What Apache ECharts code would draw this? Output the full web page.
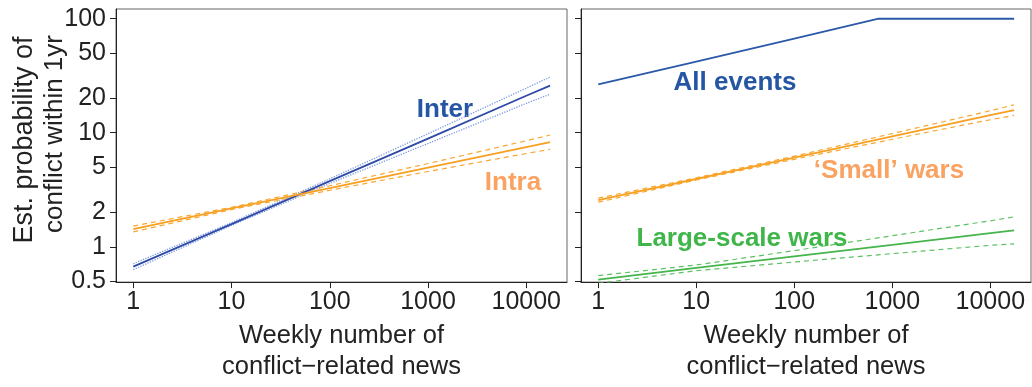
<!DOCTYPE html>
<html>
<head>
<meta charset="utf-8">
<script src="https://cdn.jsdelivr.net/npm/echarts@6/dist/echarts.min.js"></script>
<style>
html,body{margin:0;padding:0;background:#fff;}
#chart{width:1032px;height:387px;}
</style>
</head>
<body>
<div id="chart"></div>
<script>
// ---- data ----
const newsX = [1, 10, 100, 1000, 10000, 17500];
const yTicks = [0.5, 1, 2, 5, 10, 20, 50, 100];
const xTicks = [1, 10, 100, 1000, 10000];

// Left panel
const interMid = [0.67, 1.58, 3.76, 8.89, 21.1, 25.9];
const interUp  = [0.71, 1.63, 3.94, 9.8, 24.6, 30.8];
const interLo  = [0.63, 1.54, 3.59, 8.05, 18.1, 21.8];
const intraMid = [1.43, 2.17, 3.27, 4.95, 7.48, 8.26];
const intraUp  = [1.52, 2.22, 3.43, 5.37, 8.51, 9.55];
const intraLo  = [1.35, 2.12, 3.13, 4.57, 6.58, 7.14];

// Right panel
const allX   = [1, 10, 100, 725, 1000, 10000, 17500];
const allMid = [26.5, 42.1, 67, 100, 100, 100, 100];
const smallMid = [2.56, 3.93, 6.04, 9.29, 14.3, 15.8];
const smallUp  = [2.67, 4.03, 6.24, 9.84, 15.6, 17.6];
const smallLo  = [2.46, 3.85, 5.85, 8.77, 13.0, 14.2];
const largeMid = [0.516, 0.653, 0.824, 1.04, 1.32, 1.39];
const largeUp  = [0.558, 0.692, 0.925, 1.25, 1.69, 1.83];
const largeLo  = [0.478, 0.617, 0.735, 0.871, 1.03, 1.06];

// ---- styles ----
const FONT = "'Liberation Sans', Arial, Helvetica, sans-serif";
const BLUE = '#2f49a6', BLUE_CI = '#7d9be0', BLUE_ALL = '#2b58a8';
const ORANGE = '#f7a021', ORANGE_CI = '#f8a733';
const GREEN = '#45b54c', GREEN_CI = '#5cc163';

function pts(xs, ys) { return xs.map((x, i) => [x, ys[i]]); }

const chart = echarts.init(document.getElementById('chart'), null, {renderer: 'canvas'});

function xAxisDef(gi) {
  return {
    type: 'log', gridIndex: gi, min: 0.667, max: 26000, logBase: 10,
    name: 'Weekly number of\nconflict\u2212related news',
    nameLocation: 'middle', nameGap: 31,
    nameTextStyle: {fontFamily: FONT, fontSize: 25.5, color: '#222', lineHeight: 31},
    axisLine: {show: true, onZero: false, lineStyle: {color: '#222', width: 1}},
    axisTick: {show: true, inside: false, length: 6, customValues: xTicks, lineStyle: {color: '#222'}},
    axisLabel: {show: true, margin: 8, customValues: xTicks, fontFamily: FONT, fontSize: 25, color: '#222',
                formatter: v => String(Math.round(v))},
    splitLine: {show: false}, minorTick: {show: false}
  };
}
function yAxisDef(gi, labels) {
  return {
    type: 'log', gridIndex: gi, min: 0.49, max: 121.7, logBase: 10,
    axisLine: {show: true, onZero: false, lineStyle: {color: '#222', width: 1}},
    axisTick: {show: true, inside: false, length: 6, customValues: yTicks, lineStyle: {color: '#222'}},
    axisLabel: {show: labels, margin: 10, customValues: yTicks, fontFamily: FONT, fontSize: 25, color: '#222',
                formatter: v => (v < 1 ? String(Math.round(v * 10) / 10) : String(Math.round(v)))},
    splitLine: {show: false}, minorTick: {show: false}
  };
}
function line(gi, data, color, width, type) {
  return {
    type: 'line', xAxisIndex: gi, yAxisIndex: gi, data: data,
    showSymbol: false, symbol: 'none', silent: true, animation: false, clip: true,
    lineStyle: {color: color, width: width, type: type || 'solid'}
  };
}

const option = {
  backgroundColor: '#fff',
  animation: false,
  grid: [
    {left: 116, top: 9, width: 451, height: 281, show: true, borderColor: '#666', borderWidth: 1, containLabel: false},
    {left: 581, top: 9, width: 450, height: 281, show: true, borderColor: '#666', borderWidth: 1, containLabel: false}
  ],
  xAxis: [xAxisDef(0), xAxisDef(1)],
  yAxis: [yAxisDef(0, true), yAxisDef(1, false)],
  series: [
    line(0, pts(newsX, interUp), BLUE_CI, 1.3, 'dotted'),
    line(0, pts(newsX, interLo), BLUE_CI, 1.3, 'dotted'),
    line(0, pts(newsX, intraUp), ORANGE_CI, 1.2, [5, 4]),
    line(0, pts(newsX, intraLo), ORANGE_CI, 1.2, [5, 4]),
    line(0, pts(newsX, interMid), BLUE, 1.8),
    line(0, pts(newsX, intraMid), ORANGE, 1.8),

    line(1, pts(newsX, smallUp), ORANGE_CI, 1.2, [5, 4]),
    line(1, pts(newsX, smallLo), ORANGE_CI, 1.2, [5, 4]),
    line(1, pts(newsX, largeUp), GREEN_CI, 1.2, [5, 4]),
    line(1, pts(newsX, largeLo), GREEN_CI, 1.2, [5, 4]),
    line(1, pts(allX, allMid), BLUE_ALL, 1.8),
    line(1, pts(newsX, smallMid), ORANGE, 1.8),
    line(1, pts(newsX, largeMid), GREEN, 1.8)
  ],
  graphic: [
    {type: 'text', x: 25, y: 140, rotation: Math.PI / 2,
     style: {text: 'Est. probability of', font: '27px ' + FONT, fill: '#222',
             textAlign: 'center', textVerticalAlign: 'middle'}},
    {type: 'text', x: 55, y: 134, rotation: Math.PI / 2,
     style: {text: 'conflict within 1yr', font: '26px ' + FONT, fill: '#222',
             textAlign: 'center', textVerticalAlign: 'middle'}},
    {type: 'text', x: 445, y: 110, style: {text: 'Inter', font: 'bold 26px ' + FONT, fill: '#2456a3', textAlign: 'center', textVerticalAlign: 'middle'}},
    {type: 'text', x: 513, y: 183, style: {text: 'Intra', font: 'bold 26px ' + FONT, fill: '#f9a261', textAlign: 'center', textVerticalAlign: 'middle'}},
    {type: 'text', x: 735, y: 83, style: {text: 'All events', font: 'bold 26px ' + FONT, fill: '#2456a3', textAlign: 'center', textVerticalAlign: 'middle'}},
    {type: 'text', x: 889, y: 171, style: {text: '\u2018Small\u2019 wars', font: 'bold 26px ' + FONT, fill: '#f9a261', textAlign: 'center', textVerticalAlign: 'middle'}},
    {type: 'text', x: 742, y: 239, style: {text: 'Large-scale wars', font: 'bold 26px ' + FONT, fill: '#3fb54a', textAlign: 'center', textVerticalAlign: 'middle'}}
  ]
};
chart.setOption(option);
</script>
</body>
</html>
